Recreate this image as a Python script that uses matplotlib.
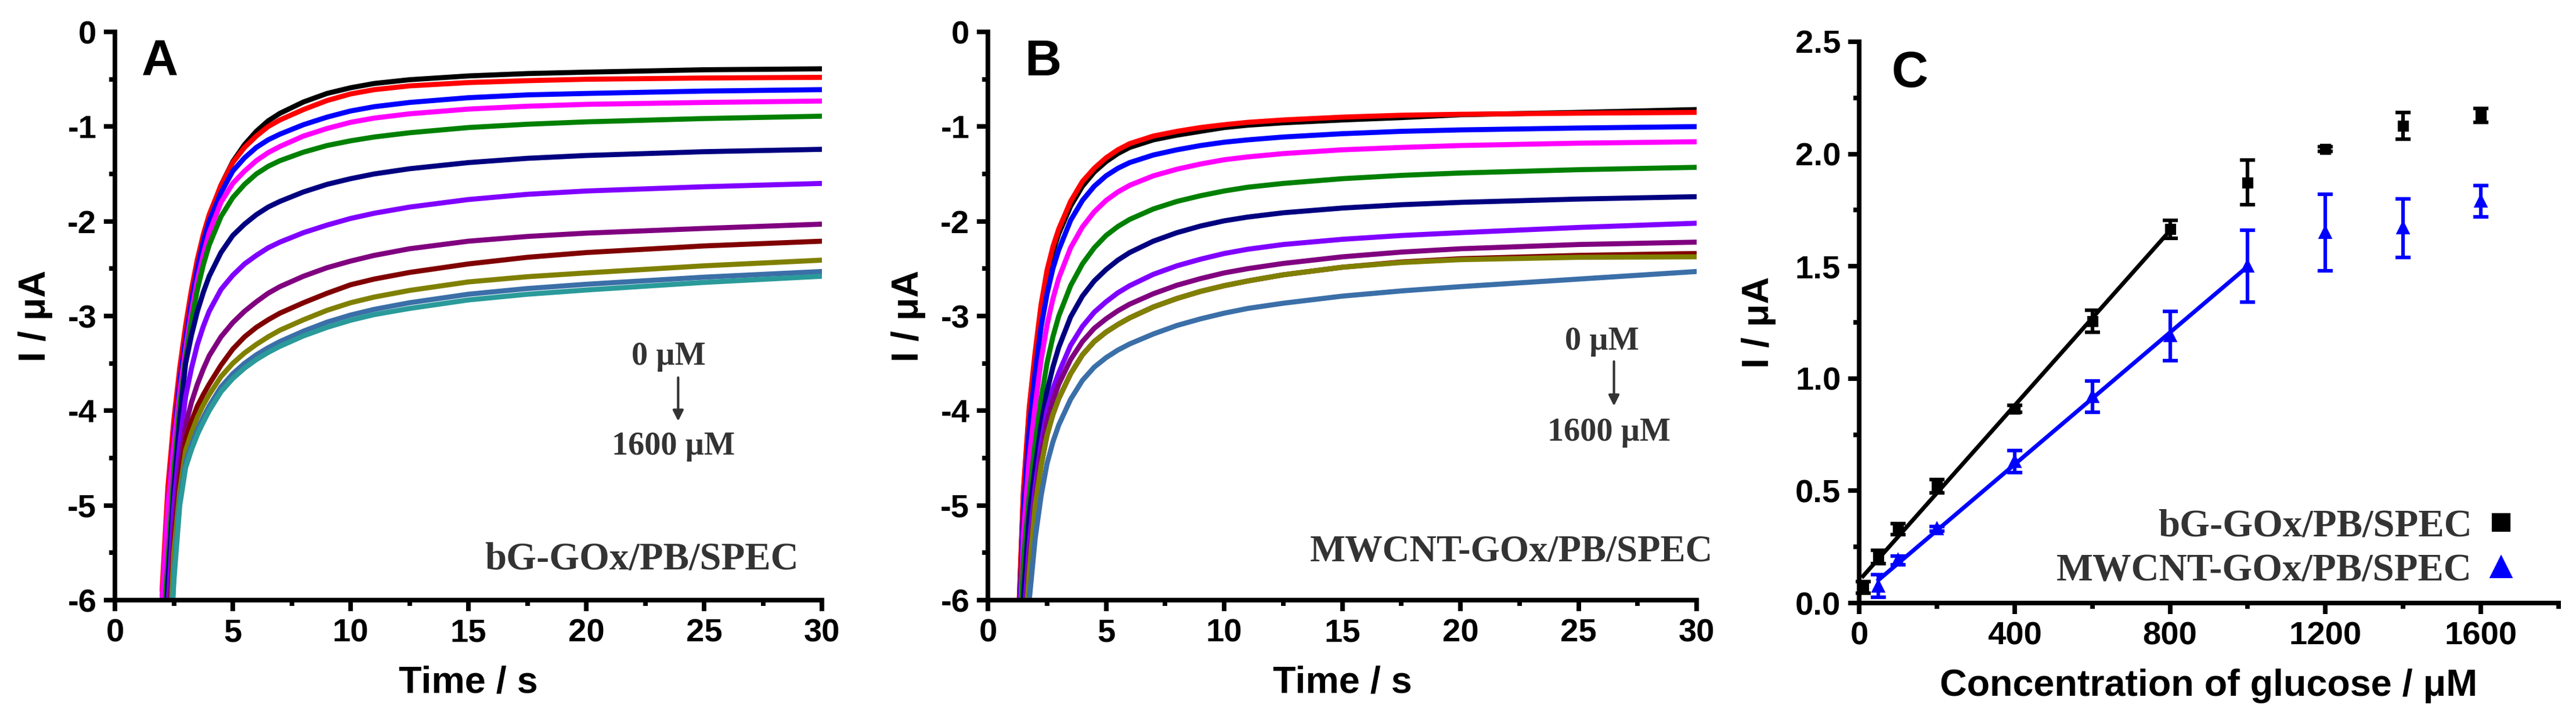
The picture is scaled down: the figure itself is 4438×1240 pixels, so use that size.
import numpy as np
import matplotlib
matplotlib.use("Agg")
import matplotlib.pyplot as plt
from matplotlib.ticker import MultipleLocator, FormatStrFormatter
from matplotlib.lines import Line2D

plt.rcParams['font.family'] = ['Liberation Sans', 'DejaVu Sans']
plt.rcParams['font.weight'] = 'bold'
plt.rcParams['axes.labelweight'] = 'bold'

# ---------------- data ----------------
colors_A = ['#000000', '#FF0000', '#0000FF', '#FF00FF', '#008000', '#000080',
            '#8000FF', '#800080', '#800000', '#808000', '#3B6FA8', '#2A9A9A']
colors_B = ['#000000', '#FF0000', '#0000FF', '#FF00FF', '#008000', '#000080',
            '#8000FF', '#800080', '#800000', '#808000', '#3B6FA8']

tA = [2.0, 2.25, 2.5, 2.75, 3.0, 3.25, 3.5, 3.75, 4.0, 4.5, 5, 5.5, 6, 6.5, 7, 8, 9, 10, 11, 12.5, 15, 17.5, 20, 25, 30]
A_black   = [-6.0, -5.0, -4.23, -3.65, -3.19, -2.79, -2.46, -2.18, -1.96, -1.62, -1.37, -1.19, -1.05, -0.94, -0.86, -0.74, -0.65, -0.59, -0.545, -0.505, -0.465, -0.44, -0.425, -0.40, -0.39]
A_red     = [-5.9, -4.8, -4.1, -3.55, -3.1, -2.72, -2.4, -2.14, -1.93, -1.62, -1.38, -1.22, -1.10, -1.00, -0.93, -0.82, -0.725, -0.655, -0.61, -0.57, -0.535, -0.515, -0.50, -0.487, -0.48]
A_blue    = [-6.1, -5.0, -4.3, -3.7, -3.25, -2.85, -2.5, -2.22, -2.0, -1.70, -1.47, -1.33, -1.22, -1.14, -1.08, -0.98, -0.90, -0.835, -0.79, -0.745, -0.695, -0.665, -0.65, -0.625, -0.61]
A_magenta = [-6.0, -5.0, -4.35, -3.8, -3.35, -2.95, -2.62, -2.35, -2.12, -1.80, -1.60, -1.47, -1.36, -1.275, -1.21, -1.10, -1.02, -0.955, -0.91, -0.865, -0.815, -0.785, -0.765, -0.745, -0.73]
A_green   = [-6.5, -5.6, -4.65, -3.95, -3.45, -3.05, -2.72, -2.46, -2.25, -1.95, -1.75, -1.61, -1.50, -1.42, -1.36, -1.27, -1.20, -1.15, -1.11, -1.065, -1.01, -0.975, -0.95, -0.915, -0.89]
A_navy    = [-7.0, -5.8, -4.85, -4.1, -3.5, -3.2, -2.95, -2.75, -2.58, -2.33, -2.15, -2.03, -1.93, -1.85, -1.79, -1.69, -1.61, -1.55, -1.50, -1.445, -1.38, -1.335, -1.305, -1.265, -1.24]
A_violet  = [-7.3, -6.1, -5.0, -4.35, -3.85, -3.55, -3.30, -3.11, -2.95, -2.72, -2.57, -2.45, -2.36, -2.28, -2.22, -2.12, -2.04, -1.97, -1.915, -1.85, -1.77, -1.715, -1.68, -1.635, -1.60]
A_purple  = [-7.5, -6.5, -5.3, -4.6, -4.15, -3.91, -3.72, -3.56, -3.42, -3.22, -3.07, -2.95, -2.85, -2.76, -2.69, -2.58, -2.49, -2.42, -2.36, -2.29, -2.21, -2.16, -2.125, -2.075, -2.03]
A_maroon  = [-7.6, -6.6, -5.4, -4.75, -4.3, -4.11, -3.95, -3.83, -3.72, -3.52, -3.35, -3.22, -3.12, -3.04, -2.97, -2.86, -2.76, -2.67, -2.61, -2.54, -2.45, -2.38, -2.33, -2.26, -2.21]
A_olive   = [-7.8, -6.8, -5.5, -4.85, -4.42, -4.23, -4.07, -3.94, -3.83, -3.64, -3.50, -3.39, -3.30, -3.22, -3.15, -3.04, -2.94, -2.86, -2.80, -2.73, -2.64, -2.585, -2.545, -2.47, -2.41]
A_steel   = [-8.0, -7.0, -5.75, -4.95, -4.55, -4.36, -4.2, -4.07, -3.95, -3.75, -3.61, -3.50, -3.41, -3.335, -3.27, -3.16, -3.065, -2.99, -2.93, -2.86, -2.77, -2.71, -2.665, -2.59, -2.53]
A_teal    = [-8.0, -7.0, -5.8, -5.0, -4.6, -4.41, -4.25, -4.12, -4.0, -3.80, -3.66, -3.55, -3.46, -3.385, -3.32, -3.21, -3.12, -3.045, -2.985, -2.92, -2.83, -2.77, -2.725, -2.645, -2.58]
curves_A = [A_black, A_red, A_blue, A_magenta, A_green, A_navy, A_violet,
            A_purple, A_maroon, A_olive, A_steel, A_teal]

tB = [1.25, 1.5, 1.75, 2.0, 2.25, 2.5, 2.75, 3.0, 3.5, 4.0, 4.5, 5, 5.5, 6, 7, 8, 9, 10, 11, 12.5, 15, 17.5, 20, 25, 30]
B_black   = [-6.5, -4.9, -4.0, -3.42, -2.93, -2.57, -2.32, -2.13, -1.84, -1.63, -1.48, -1.37, -1.285, -1.22, -1.14, -1.09, -1.05, -1.01, -0.985, -0.96, -0.93, -0.905, -0.875, -0.85, -0.82]
B_red     = [-6.5, -4.85, -3.96, -3.38, -2.88, -2.52, -2.27, -2.08, -1.79, -1.58, -1.44, -1.33, -1.245, -1.18, -1.10, -1.05, -1.01, -0.98, -0.955, -0.93, -0.90, -0.88, -0.87, -0.858, -0.85]
B_blue    = [-6.8, -5.1, -4.2, -3.6, -3.12, -2.77, -2.5, -2.3, -1.99, -1.78, -1.63, -1.52, -1.44, -1.38, -1.30, -1.245, -1.20, -1.165, -1.14, -1.11, -1.075, -1.05, -1.035, -1.015, -1.0]
B_magenta = [-7.0, -5.3, -4.5, -3.95, -3.47, -3.1, -2.82, -2.6, -2.28, -2.06, -1.90, -1.78, -1.69, -1.62, -1.52, -1.45, -1.395, -1.35, -1.32, -1.285, -1.245, -1.22, -1.20, -1.175, -1.16]
B_green   = [-7.2, -5.6, -4.9, -4.35, -3.88, -3.5, -3.22, -3.0, -2.68, -2.45, -2.28, -2.15, -2.055, -1.98, -1.87, -1.79, -1.73, -1.68, -1.64, -1.60, -1.55, -1.515, -1.49, -1.455, -1.43]
B_navy    = [-7.5, -6.0, -5.1, -4.6, -4.15, -3.8, -3.54, -3.33, -3.01, -2.79, -2.63, -2.51, -2.41, -2.33, -2.21, -2.12, -2.05, -1.995, -1.955, -1.91, -1.86, -1.825, -1.80, -1.765, -1.74]
B_violet  = [-7.8, -6.3, -5.4, -4.8, -4.35, -4.0, -3.77, -3.6, -3.31, -3.11, -2.96, -2.85, -2.755, -2.68, -2.56, -2.47, -2.40, -2.34, -2.295, -2.245, -2.19, -2.15, -2.12, -2.065, -2.02]
B_purple  = [-8.0, -6.5, -5.6, -4.95, -4.47, -4.12, -3.89, -3.72, -3.46, -3.27, -3.13, -3.03, -2.945, -2.875, -2.765, -2.675, -2.605, -2.545, -2.50, -2.445, -2.375, -2.325, -2.29, -2.245, -2.22]
B_maroon  = [-8.0, -6.6, -5.7, -5.0, -4.58, -4.26, -4.04, -3.87, -3.61, -3.41, -3.27, -3.17, -3.09, -3.02, -2.905, -2.815, -2.74, -2.68, -2.63, -2.565, -2.485, -2.43, -2.395, -2.36, -2.34]
B_olive   = [-8.0, -6.6, -5.7, -5.0, -4.58, -4.26, -4.04, -3.87, -3.61, -3.41, -3.27, -3.17, -3.09, -3.02, -2.905, -2.815, -2.74, -2.68, -2.63, -2.565, -2.485, -2.435, -2.405, -2.38, -2.375]
B_steel   = [-8.5, -7.3, -6.0, -5.35, -4.9, -4.56, -4.33, -4.15, -3.88, -3.68, -3.54, -3.44, -3.36, -3.295, -3.19, -3.10, -3.03, -2.97, -2.92, -2.865, -2.79, -2.735, -2.69, -2.61, -2.53]
curves_B = [B_black, B_red, B_blue, B_magenta, B_green, B_navy, B_violet,
            B_purple, B_maroon, B_olive, B_steel]

conc_bG = [10, 50, 100, 200, 400, 600, 800, 1000, 1200, 1400, 1600]
I_bG    = [0.07, 0.205, 0.33, 0.52, 0.865, 1.255, 1.665, 1.873, 2.022, 2.125, 2.172]
err_bG  = [0.025, 0.03, 0.025, 0.03, 0.015, 0.05, 0.04, 0.10, 0.01, 0.06, 0.03]

conc_MW = [50, 100, 200, 400, 600, 800, 1000, 1200, 1400, 1600]
I_MW    = [0.076, 0.19, 0.33, 0.63, 0.92, 1.19, 1.50, 1.65, 1.67, 1.79]
err_MW  = [0.05, 0.02, 0.01, 0.05, 0.07, 0.11, 0.16, 0.17, 0.13, 0.07]

lin_max_bG = 800
lin_max_MW = 1000

label_bG = 'bG-GOx/PB/SPEC'
label_MW = 'MWCNT-GOx/PB/SPEC'

# ---------------- figure ----------------
W, H = 4438, 1240
dpi = 300
fig = plt.figure(figsize=(W / dpi, H / dpi), dpi=dpi)

def px_axes(l, t, r, b):
    return fig.add_axes([l / W, 1 - b / H, (r - l) / W, (b - t) / H])

axA = px_axes(198, 55, 1416, 1035)
axB = px_axes(1702, 55, 2923, 1035)
axC = px_axes(3203, 72, 4408, 1040)

TICK_FS = 13.5
LABEL_FS = 15.5
SERIF = ['Liberation Serif', 'DejaVu Serif']
TXT = '#333333'

def style(ax):
    for s in ['top', 'right']:
        ax.spines[s].set_visible(False)
    for s in ['left', 'bottom']:
        ax.spines[s].set_linewidth(1.9)
    ax.tick_params(which='major', direction='out', length=4.6, width=1.9,
                   labelsize=TICK_FS, pad=3)
    ax.tick_params(which='minor', direction='out', length=2.3, width=1.9)
    for lab in ax.get_xticklabels() + ax.get_yticklabels():
        lab.set_fontweight('bold')

for ax, t, curves, cols in [(axA, tA, curves_A, colors_A), (axB, tB, curves_B, colors_B)]:
    for y, c in zip(curves, cols):
        ax.plot(t, y, color=c, lw=2.1, solid_joinstyle='round', solid_capstyle='round')
    ax.set_xlim(0, 30)
    ax.set_ylim(-6, 0)
    ax.xaxis.set_major_locator(MultipleLocator(5))
    ax.xaxis.set_minor_locator(MultipleLocator(2.5))
    ax.yaxis.set_major_locator(MultipleLocator(1))
    ax.yaxis.set_minor_locator(MultipleLocator(0.5))
    ax.yaxis.set_major_formatter(FormatStrFormatter('%d'))
    ax.set_xlabel('Time / s', fontsize=LABEL_FS, fontweight='bold', labelpad=7)
    ax.set_ylabel('I / μA', fontsize=LABEL_FS, fontweight='bold', labelpad=6)
    style(ax)

axA.text(0.038, 0.988, 'A', transform=axA.transAxes, fontsize=21, fontweight='bold', va='top', ha='left')
axB.text(0.052, 0.988, 'B', transform=axB.transAxes, fontsize=21, fontweight='bold', va='top', ha='left')

# annotations A
axA.text(23.5, -3.43, '0 µM', ha='center', va='center', fontsize=13.5, family=SERIF, fontweight='bold', color=TXT)
axA.annotate('', xy=(23.9, -4.11), xytext=(23.9, -3.65),
             arrowprops=dict(arrowstyle='-|>', lw=1.0, color=TXT, mutation_scale=9, shrinkA=0, shrinkB=0))
axA.text(23.7, -4.38, '1600 µM', ha='center', va='center', fontsize=13.5, family=SERIF, fontweight='bold', color=TXT)
axA.text(29.0, -5.57, label_bG, ha='right', va='center', fontsize=16, family=SERIF, fontweight='bold', color=TXT)

# annotations B
axB.text(26.0, -3.27, '0 µM', ha='center', va='center', fontsize=13.5, family=SERIF, fontweight='bold', color=TXT)
axB.annotate('', xy=(26.5, -3.95), xytext=(26.5, -3.48),
             arrowprops=dict(arrowstyle='-|>', lw=1.0, color=TXT, mutation_scale=9, shrinkA=0, shrinkB=0))
axB.text(26.3, -4.23, '1600 µM', ha='center', va='center', fontsize=13.5, family=SERIF, fontweight='bold', color=TXT)
axB.text(30.7, -5.49, label_MW, ha='right', va='center', fontsize=15.5, family=SERIF, fontweight='bold', color=TXT, clip_on=False)

# ---------------- panel C ----------------
xb = np.array(conc_bG, float); yb = np.array(I_bG)
xm = np.array(conc_MW, float); ym = np.array(I_MW)
mb = xb <= lin_max_bG
mm = xm <= lin_max_MW
pb = np.polyfit(xb[mb], yb[mb], 1)
pm = np.polyfit(xm[mm], ym[mm], 1)
fx_b = np.array([xb[mb].min(), xb[mb].max()])
fx_m = np.array([xm[mm].min(), xm[mm].max()])
axC.plot(fx_b, np.polyval(pb, fx_b), color='black', lw=1.7, zorder=2)
axC.plot(fx_m, np.polyval(pm, fx_m), color='#0000FF', lw=1.7, zorder=2)

axC.errorbar(xb, yb, yerr=err_bG, fmt='s', color='black', ms=3.6, elinewidth=1.5,
             capsize=3.2, capthick=1.5, zorder=3, clip_on=False)
axC.errorbar(xm, ym, yerr=err_MW, fmt='^', color='#0000FF', ms=4.2, elinewidth=1.5,
             capsize=3.2, capthick=1.5, zorder=3, clip_on=False)

axC.set_xlim(0, 1800)
axC.set_ylim(0, 2.5)
axC.xaxis.set_major_locator(MultipleLocator(400))
axC.xaxis.set_minor_locator(MultipleLocator(200))
axC.yaxis.set_major_locator(MultipleLocator(0.5))
axC.yaxis.set_minor_locator(MultipleLocator(0.25))
axC.set_xticks([0, 400, 800, 1200, 1600])
axC.yaxis.set_major_formatter(FormatStrFormatter('%.1f'))
axC.set_xlabel('Concentration of glucose / μM', fontsize=LABEL_FS, fontweight='bold', labelpad=7)
axC.set_ylabel('I / μA', fontsize=LABEL_FS, fontweight='bold', labelpad=8)
style(axC)
axC.text(0.046, 0.985, 'C', transform=axC.transAxes, fontsize=21, fontweight='bold', va='top', ha='left')

handles = [Line2D([], [], ls='none', marker='s', color='black', ms=6.5),
           Line2D([], [], ls='none', marker='^', color='#0000FF', ms=8)]
leg = axC.legend(handles, [label_bG, label_MW], loc='lower right', bbox_to_anchor=(0.94, 0.025),
                 frameon=False, markerfirst=False, handlelength=0.8, handletextpad=0.35,
                 labelspacing=0.25, borderpad=0, borderaxespad=0,
                 prop={'family': SERIF, 'weight': 'bold', 'size': 16}, labelcolor=TXT)

fig.savefig('out.png', dpi=dpi)
